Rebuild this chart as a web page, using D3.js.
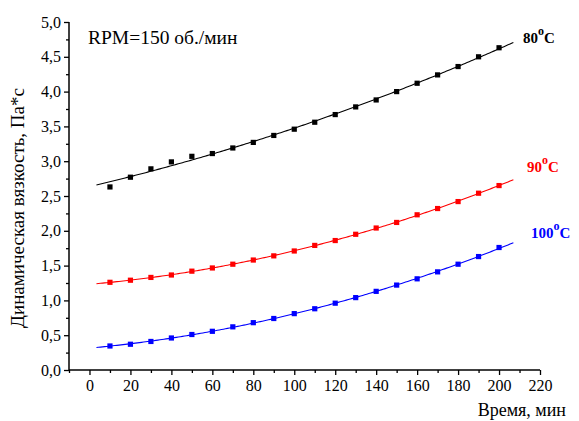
<!DOCTYPE html>
<html>
<head>
<meta charset="utf-8">
<script src="https://cdn.jsdelivr.net/npm/d3@7"></script>
<style>
  html, body { margin: 0; padding: 0; background: #fff; }
</style>
</head>
<body>
<svg id="chart" width="579" height="421"></svg>
<script>
// Time, minutes
const times = [10, 20, 30, 40, 50, 60, 70, 80, 90, 100, 110, 120, 130, 140, 150, 160, 170, 180, 190, 200];
// Dynamic viscosity, Pa*s, at three temperatures
const visc80 = [2.63, 2.77, 2.89, 2.99, 3.07, 3.11, 3.19, 3.27, 3.37, 3.46, 3.56, 3.67, 3.78, 3.88, 4.00, 4.12, 4.24, 4.36, 4.50, 4.63];
const visc90 = [1.26, 1.29, 1.33, 1.365, 1.42, 1.466, 1.52, 1.58, 1.64, 1.71, 1.79, 1.86, 1.95, 2.04, 2.12, 2.23, 2.32, 2.42, 2.54, 2.65];
const visc100 = [0.345, 0.37, 0.41, 0.46, 0.51, 0.556, 0.62, 0.68, 0.74, 0.81, 0.88, 0.96, 1.04, 1.13, 1.22, 1.31, 1.41, 1.52, 1.63, 1.76];
const seriesTemps = ["80", "90", "100"];
const seriesColors = ["#000000", "#ff0000", "#0000ff"];
const xTicks = [0, 20, 40, 60, 80, 100, 120, 140, 160, 180, 200, 220];
const yTicks = [0, 0.5, 1, 1.5, 2, 2.5, 3, 3.5, 4, 4.5, 5];
const fitRange = [3.4, 207];

const FONT = "Liberation Serif";
const svg = d3.select("#chart");
const x = d3.scaleLinear().domain([-10, 220]).range([69, 540]);
const y = d3.scaleLinear().domain([0, 5]).range([370, 22]);
const fmt = v => d3.format(".1f")(v).replace(".", ",");

// Least-squares quadratic fit y = a + b t + c t^2
function quadFit(ts, vs) {
  let S = [0,0,0,0,0], T = [0,0,0];
  ts.forEach((t, i) => {
    let p = 1;
    for (let k = 0; k < 5; k++) { S[k] += p; if (k < 3) T[k] += p * vs[i]; p *= t; }
  });
  const M = [[S[0], S[1], S[2], T[0]], [S[1], S[2], S[3], T[1]], [S[2], S[3], S[4], T[2]]];
  for (let i = 0; i < 3; i++) {
    for (let j = i + 1; j < 3; j++) {
      const f = M[j][i] / M[i][i];
      for (let k = i; k < 4; k++) M[j][k] -= f * M[i][k];
    }
  }
  const c = [0,0,0];
  for (let i = 2; i >= 0; i--) {
    let s = M[i][3];
    for (let k = i + 1; k < 3; k++) s -= M[i][k] * c[k];
    c[i] = s / M[i][i];
  }
  return t => c[0] + c[1] * t + c[2] * t * t;
}

// Axes
const xAxis = d3.axisBottom(x).tickValues(xTicks).tickSize(5).tickPadding(5).tickFormat(d3.format("d"));
const xMinor = d3.axisBottom(x).tickValues(d3.range(-10, 221, 20)).tickSize(3).tickFormat("");
const yAxis = d3.axisLeft(y).tickValues(yTicks).tickSize(5).tickPadding(3).tickFormat(fmt);
const yMinor = d3.axisLeft(y).tickValues(d3.range(0.25, 5, 0.5)).tickSize(3).tickFormat("");

function styleAxis(g) {
  g.attr("font-family", FONT).attr("font-size", 16);
  g.select(".domain").attr("stroke", "#000").attr("stroke-width", 1.5);
  g.selectAll(".tick line").attr("stroke", "#000").attr("stroke-width", 1.3);
  g.selectAll("text").attr("fill", "#000").style("font-size", "16px").style("font-family", FONT);
}

svg.append("g").attr("transform", "translate(0,370)").call(xMinor).call(styleAxis)
  .select(".domain").remove();
svg.append("g").attr("transform", "translate(0,370)").call(xAxis).call(styleAxis)
  .select(".domain").attr("d", `M${x.range()[0]},0H${x.range()[1]}`);
svg.append("g").attr("transform", "translate(69,0)").call(yMinor).call(styleAxis)
  .select(".domain").remove();
svg.append("g").attr("transform", "translate(69,0)").call(yAxis).call(styleAxis)
  .select(".domain").attr("d", `M0,${y.range()[0]}V${y.range()[1]}`);

// Series: fitted curve + square markers
const allSeries = [visc80, visc90, visc100];
const line = d3.line().x(d => x(d[0])).y(d => y(d[1]));
allSeries.forEach((vals, si) => {
  const f = quadFit(times, vals);
  const pts = d3.range(fitRange[0], fitRange[1] + 0.01, 1).map(t => [t, f(t)]);
  pts.push([fitRange[1], f(fitRange[1])]);
  svg.append("path").datum(pts).attr("d", line)
    .attr("fill", "none").attr("stroke", seriesColors[si]).attr("stroke-width", 1.1);
  svg.append("g").selectAll("rect").data(times.map((t, i) => [t, vals[i]])).join("rect")
    .attr("x", d => x(d[0]) - 2.6).attr("y", d => y(d[1]) - 2.6)
    .attr("width", 5.2).attr("height", 5.2).attr("fill", seriesColors[si]);
});

// Temperature labels
const labelPos = [[523, 43], [527, 172], [531, 238]];
seriesTemps.forEach((tmp, i) => {
  const t = svg.append("text").attr("x", labelPos[i][0]).attr("y", labelPos[i][1])
    .attr("fill", seriesColors[i]).style("font-family", FONT)
    .style("font-weight", "bold").style("font-size", "15px");
  t.append("tspan").text(tmp);
  t.append("tspan").attr("dy", -8).style("font-size", "12px").text("o");
  t.append("tspan").attr("dy", 8).text("C");
});

// Annotation and axis titles
svg.append("text").attr("x", 88).attr("y", 44).style("font-family", FONT).style("font-size", "19.5px")
  .attr("fill", "#000").text("RPM=150 об./мин");
svg.append("text").attr("x", 566).attr("y", 416).attr("text-anchor", "end").style("font-family", FONT)
  .style("font-size", "18px").attr("fill", "#000").text("Время, мин");
svg.append("text").attr("transform", "translate(24,208) rotate(-90)").attr("text-anchor", "middle")
  .style("font-family", FONT).style("font-size", "19px").attr("fill", "#000")
  .text("Динамическая вязкость, Па*с");
</script>
</body>
</html>
